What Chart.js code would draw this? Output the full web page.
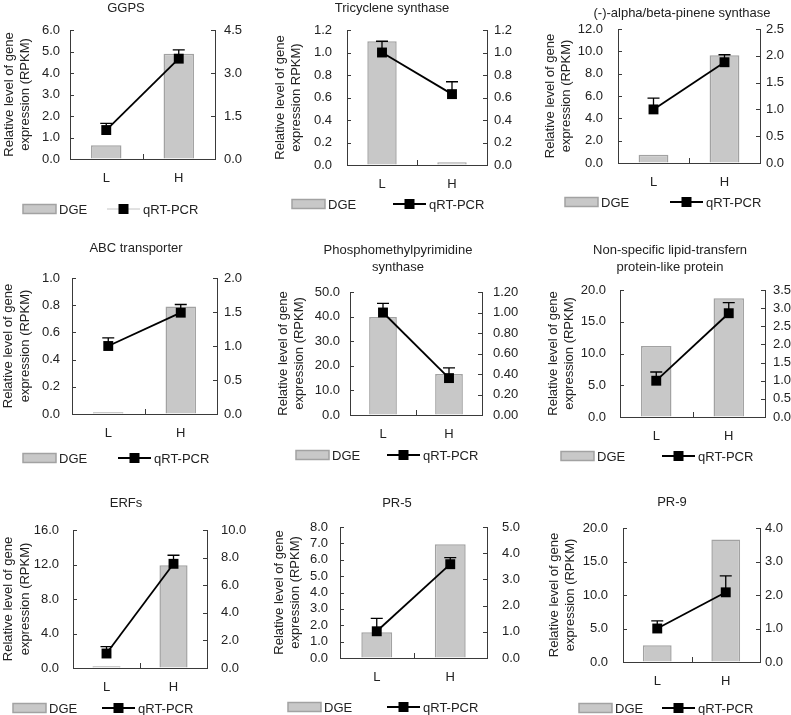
<!DOCTYPE html>
<html lang="en">
<head>
<meta charset="UTF-8">
<title>DGE and qRT-PCR expression</title>
<script src="https://cdn.jsdelivr.net/npm/chart.js"></script>
<style>
  body { margin: 0; background: #fff; }
  #wrap { position: relative; width: 791px; height: 715px; overflow: hidden; }
  #wrap canvas { position: absolute; }
</style>
</head>
<body>
<div id="wrap"></div>
<script>
// ---- data ----
const categories = ['L', 'H'];
const geneTitles = [
  ['GGPS'], ['Tricyclene synthase'], ['(-)-alpha/beta-pinene synthase'],
  ['ABC transporter'], ['Phosphomethylpyrimidine', 'synthase'], ['Non-specific lipid-transfern', 'protein-like protein'],
  ['ERFs'], ['PR-5'], ['PR-9']
];
const yTitles = [
  ['Relative level of gene', 'expression (RPKM)'], ['Relative level of gene', 'expression RPKM)'], ['Relative level of gene', 'expression (RPKM)'],
  ['Relative level of gene', 'expression (RPKM)'], ['Relative level of gene', 'expression (RPKM)'], ['Relative level of gene', 'expression (RPKM)'],
  ['Relative level of gene', 'expression (RPKM)'], ['Relative level of gene', 'expression (RPKM)'], ['Relative level of gene', 'expression (RPKM)']
];
const dgeValues = [[0.64, 4.9], [1.1, 0.025], [0.75, 9.65], [0.012, 0.79], [39.8, 16.7], [11.2, 18.7], [0.2, 11.9], [1.57, 6.95], [2.5, 18.3]];
const qpcrValues = [[1.01, 3.5], [1.0, 0.63], [1.0, 1.88], [1.0, 1.49], [1.0, 0.36], [1.0, 2.86], [1.05, 7.55], [1.02, 3.58], [1.0, 2.08]];
const qpcrErrors = [[0.23, 0.31], [0.1, 0.11], [0.21, 0.14], [0.12, 0.12], [0.09, 0.1], [0.24, 0.29], [0.5, 0.62], [0.49, 0.25], [0.23, 0.49]];
const leftMax = [6, 1.2, 12, 1, 50, 20, 16, 8, 20];
const leftStep = [1, 0.2, 2, 0.2, 10, 5, 4, 1, 5];
const rightMax = [4.5, 1.2, 2.5, 2, 1.2, 3.5, 10, 5, 4];
const rightStep = [1.5, 0.2, 0.5, 0.5, 0.2, 0.5, 2, 1, 1];
const rightDecimals = [1, 1, 1, 1, 2, 1, 1, 1, 1];

// ---- panel placement (page pixels) ----
const panels = [
  { cell: [0, 0, 262, 232],     plot: [70, 30, 215, 159],   title: [126, 8],   yTitleX: 9,   padL: 10, padR: 9,  legend: [23, 107, 209], legendLine: '#c4c4c4' },
  { cell: [262, 0, 260, 232],   plot: [347, 30, 487, 165],  title: [392, 8],   yTitleX: 280, padL: 15, padR: 7,  legend: [292, 393, 204] },
  { cell: [522, 0, 269, 232],   plot: [618, 29, 760, 163],  title: [682, 13],  yTitleX: 550, padL: 15, padR: 6,  legend: [565, 670, 202] },
  { cell: [0, 232, 262, 240],   plot: [72, 278, 217, 414],  title: [136, 248], yTitleX: 8,   padL: 12, padR: 7,  legend: [23, 118, 458] },
  { cell: [262, 232, 260, 240], plot: [350, 292, 482, 415], title: [398, 250], yTitleX: 283, padL: 10, padR: 11, legend: [296, 387, 455] },
  { cell: [522, 232, 269, 240], plot: [620, 290, 765, 417], title: [670, 250], yTitleX: 553, padL: 14, padR: 8,  legend: [561, 662, 456] },
  { cell: [0, 472, 262, 243],   plot: [73, 530, 207, 668],  title: [126, 503], yTitleX: 8,   padL: 14, padR: 14, legend: [13, 102, 708] },
  { cell: [262, 472, 260, 243], plot: [340, 527, 487, 658], title: [397, 503], yTitleX: 279, padL: 12, padR: 15, legend: [288, 387, 707] },
  { cell: [522, 472, 269, 243], plot: [623, 528, 760, 662], title: [672, 502], yTitleX: 554, padL: 15, padR: 5,  legend: [579, 662, 708] }
];

const FONT = '"Liberation Sans", Arial, sans-serif';
const TEXT = '#222';
const AXIS = '#3a3a3a';
const BAR_FILL = '#c8c8c8';
const BAR_EDGE = '#a2a2a2';

// titles, legend, inward tick marks and error bars
function makeDecor(i, p) {
  const ox = p.cell[0], oy = p.cell[1];
  return {
    id: 'panelDecor',
    afterDatasetsDraw(chart) {
      const ctx = chart.ctx;
      const meta = chart.getDatasetMeta(1);
      const y1 = chart.scales.y1;
      ctx.save();
      ctx.strokeStyle = '#000';
      ctx.lineWidth = 1.3;
      meta.data.forEach((pt, k) => {
        const top = y1.getPixelForValue(qpcrValues[i][k] + qpcrErrors[i][k]);
        ctx.beginPath();
        ctx.moveTo(pt.x, pt.y);
        ctx.lineTo(pt.x, top);
        ctx.moveTo(pt.x - 6, top);
        ctx.lineTo(pt.x + 6, top);
        ctx.stroke();
      });
      ctx.restore();
    },
    afterDraw(chart) {
      const ctx = chart.ctx;
      const area = chart.chartArea;
      ctx.save();
      // inward tick marks
      ctx.strokeStyle = AXIS;
      ctx.lineWidth = 1;
      ctx.beginPath();
      chart.scales.y.ticks.forEach(t => {
        const y = Math.round(chart.scales.y.getPixelForValue(t.value)) + 0.5;
        ctx.moveTo(area.left, y); ctx.lineTo(area.left + 4, y);
      });
      chart.scales.y1.ticks.forEach(t => {
        const y = Math.round(chart.scales.y1.getPixelForValue(t.value)) + 0.5;
        ctx.moveTo(area.right, y); ctx.lineTo(area.right - 4, y);
      });
      const xs = chart.scales.x;
      const mid = Math.round((xs.getPixelForValue(0) + xs.getPixelForValue(1)) / 2) + 0.5;
      ctx.moveTo(mid, area.bottom); ctx.lineTo(mid, area.bottom - 5);
      ctx.stroke();

      // panel title
      ctx.fillStyle = TEXT;
      ctx.font = '13px ' + FONT;
      ctx.textAlign = 'center';
      ctx.textBaseline = 'middle';
      geneTitles[i].forEach((line, k) => {
        ctx.fillText(line, p.title[0] - ox, p.title[1] - oy + k * 17);
      });

      // legend
      const [bx, lx, ly] = [p.legend[0] - ox, p.legend[1] - ox, p.legend[2] - oy];
      ctx.fillStyle = BAR_FILL;
      ctx.fillRect(bx, ly - 4.5, 33, 9);
      ctx.strokeStyle = BAR_EDGE;
      ctx.lineWidth = 1.5;
      ctx.strokeRect(bx, ly - 4.5, 33, 9);
      ctx.fillStyle = TEXT;
      ctx.textAlign = 'left';
      ctx.fillText('DGE', bx + 36, ly + 1);
      ctx.strokeStyle = p.legendLine || '#000';
      ctx.lineWidth = p.legendLine ? 1 : 1.8;
      ctx.beginPath();
      ctx.moveTo(lx, ly); ctx.lineTo(lx + 33, ly);
      ctx.stroke();
      ctx.fillStyle = '#000';
      ctx.fillRect(lx + 16.5 - 5, ly - 5, 10, 10);
      ctx.fillStyle = TEXT;
      ctx.fillText('qRT-PCR', lx + 36, ly + 1);
      ctx.restore();
    }
  };
}

const wrap = document.getElementById('wrap');

panels.forEach((p, i) => {
  const [cx, cy, cw, ch] = p.cell;
  const [pl, pt, pr, pb] = p.plot;
  const canvas = document.createElement('canvas');
  canvas.width = cw;
  canvas.height = ch;
  canvas.style.left = cx + 'px';
  canvas.style.top = cy + 'px';
  wrap.appendChild(canvas);

  const titleHalf = 13 * 1.3 / 2;
  const axisLeft = Math.max(cx, p.yTitleX - titleHalf);
  const padLeft = axisLeft - cx;

  new Chart(canvas, {
    type: 'bar',
    data: {
      labels: categories,
      datasets: [
        {
          type: 'bar',
          label: 'DGE',
          data: dgeValues[i],
          yAxisID: 'y',
          order: 2,
          backgroundColor: BAR_FILL,
          borderColor: BAR_EDGE,
          borderWidth: 1.5,
          barPercentage: 0.42,
          categoryPercentage: 1
        },
        {
          type: 'line',
          label: 'qRT-PCR',
          data: qpcrValues[i],
          yAxisID: 'y1',
          order: 1,
          borderColor: '#000',
          borderWidth: 1.8,
          pointStyle: 'rect',
          pointRadius: 7,
          pointBackgroundColor: '#000',
          pointBorderColor: '#000',
          pointBorderWidth: 0
        }
      ]
    },
    options: {
      responsive: false,
      animation: false,
      devicePixelRatio: 1,
      layout: { padding: { left: padLeft, right: 0, top: pt - cy, bottom: 0 } },
      plugins: {
        legend: { display: false },
        tooltip: { enabled: false }
      },
      scales: {
        x: {
          grid: { drawOnChartArea: false, drawTicks: false },
          border: { color: AXIS, width: 1 },
          ticks: { color: TEXT, padding: 12, font: { family: FONT, size: 13 } },
          afterFit: s => { s.height = cy + ch - pb; }
        },
        y: {
          position: 'left',
          min: 0,
          max: leftMax[i],
          grid: { drawOnChartArea: false, drawTicks: false },
          border: { color: AXIS, width: 1 },
          ticks: {
            stepSize: leftStep[i],
            autoSkip: false,
            padding: p.padL,
            color: TEXT,
            font: { family: FONT, size: 13 },
            callback: v => Number(v).toFixed(1)
          },
          title: {
            display: true,
            text: yTitles[i],
            color: TEXT,
            font: { family: FONT, size: 13, lineHeight: 1.3 },
            padding: { top: 0, bottom: 0 }
          },
          afterFit: s => { s.width = pl - axisLeft; }
        },
        y1: {
          position: 'right',
          min: 0,
          max: rightMax[i],
          grid: { drawOnChartArea: false, drawTicks: false },
          border: { color: AXIS, width: 1 },
          ticks: {
            stepSize: rightStep[i],
            autoSkip: false,
            padding: p.padR,
            color: TEXT,
            font: { family: FONT, size: 13 },
            callback: v => Number(v).toFixed(rightDecimals[i])
          },
          afterFit: s => { s.width = cx + cw - pr; }
        }
      }
    },
    plugins: [makeDecor(i, p)]
  });
});
</script>
</body>
</html>
